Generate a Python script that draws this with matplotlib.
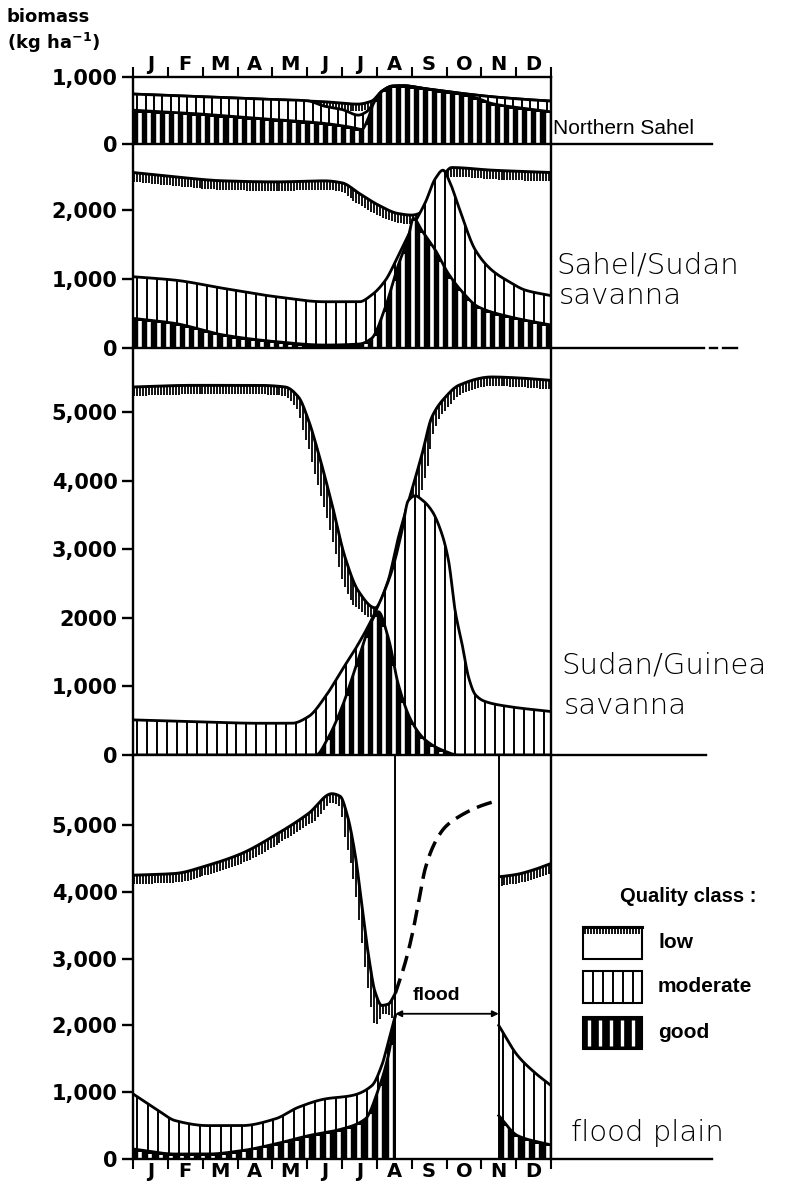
import numpy as np
import matplotlib
matplotlib.use("Agg")
import matplotlib.pyplot as plt
from matplotlib.patches import Rectangle

plt.rcParams["mathtext.default"] = "regular"

FIG_W, FIG_H, DPI = 786, 1186, 100

MONTH_LABELS = ["J", "F", "M", "A", "M", "J", "J", "A", "S", "O", "N", "D"]

# ---------------- Northern Sahel ----------------
ns_low_months = [0, 1.7, 3.6, 5.5, 6.45, 6.85, 7.15, 7.45, 7.75, 8.4, 9.35, 10.3, 11.25, 12]
ns_low = [745, 712, 672, 630, 595, 640, 790, 865, 870, 825, 760, 705, 665, 640]
ns_mod_months = [0, 1.7, 3.6, 5.0, 5.5, 6.0, 6.47, 6.7, 6.9, 7.15, 7.45, 7.75, 8.4, 9.35, 10.3, 11.25, 12]
ns_mod = [745, 712, 672, 645, 564, 515, 431, 480, 604, 790, 865, 870, 825, 760, 705, 665, 640]
ns_good_months = [0, 1.7, 3.6, 5.5, 6.28, 6.57, 6.75, 6.9, 7.15, 7.45, 7.75, 8.4, 9.35, 9.9, 10.3, 11.25, 12]
ns_good = [505, 456, 381, 307, 248, 218, 380, 600, 785, 862, 867, 822, 750, 680, 604, 530, 480]
ns_ticks = [0, 1000]
ns_ticklabels = ["0", "1,000"]

# ---------------- Sahel/Sudan savanna ----------------
ss_low_months = [0, 1.2, 2.6, 4.1, 5.5, 6.0, 6.5, 7.05, 7.6, 8.0, 8.4, 8.8, 9.15, 10.3, 12]
ss_low = [2546, 2483, 2425, 2410, 2425, 2396, 2241, 2072, 1952, 1928, 2000, 2400, 2618, 2580, 2546]
ss_mod_months = [0, 1.2, 2.6, 4.1, 5.5, 6.5, 6.85, 7.25, 7.6, 8.0, 8.4, 8.68, 8.9, 9.1, 9.35, 9.83, 10.3, 10.8, 11.26, 12]
ss_mod = [1034, 985, 865, 744, 671, 671, 768, 985, 1324, 1734, 2121, 2459, 2580, 2400, 2048, 1420, 1130, 961, 840, 760]
ss_good_months = [0, 1.2, 2.6, 4.1, 5.5, 6.5, 6.85, 7.25, 7.6, 7.9, 8.05, 8.3, 8.68, 9.05, 9.45, 9.9, 10.8, 12]
ss_good = [430, 357, 188, 92, 43, 58, 140, 600, 1180, 1600, 1880, 1700, 1420, 1082, 816, 600, 454, 333]
ss_ticks = [0, 1000, 2000]
ss_ticklabels = ["0", "1,000", "2,000"]

# ---------------- Sudan/Guinea savanna ----------------
sg_low_months = [0, 1.7, 3.6, 4.37, 4.75, 5.04, 5.33, 5.71, 6.09, 6.47, 6.95, 7.3, 7.62, 8.0, 8.3, 8.58, 8.97, 9.35, 10.3, 11.0, 12]
sg_low = [5366, 5390, 5390, 5366, 5220, 4878, 4390, 3659, 2878, 2390, 2146, 2500, 3171, 3854, 4390, 4927, 5220, 5390, 5512, 5500, 5463]
sg_mod_months = [0, 1.7, 3.6, 4.56, 5.04, 5.52, 6.0, 6.47, 6.95, 7.43, 7.72, 7.9, 8.1, 8.3, 8.58, 8.87, 9.06, 9.25, 9.45, 9.64, 9.83, 10.11, 10.78, 12]
sg_mod = [512, 488, 463, 463, 561, 850, 1240, 1620, 2080, 2683, 3268, 3707, 3780, 3720, 3561, 3220, 2829, 2098, 1610, 1122, 878, 780, 707, 634]
sg_good_months = [0, 5.25, 5.6, 6.0, 6.47, 6.85, 7.04, 7.33, 7.62, 8.0, 8.39, 8.87, 9.35, 12]
sg_good = [0, 0, 250, 700, 1400, 1950, 2090, 1707, 1024, 488, 220, 73, 0, 0]
sg_ticks = [0, 1000, 2000, 3000, 4000, 5000]
sg_ticklabels = ["0", "1,000", "2000", "3,000", "4,000", "5,000"]

# ---------------- Flood plain ----------------
FLOOD_START, FLOOD_END, FLOOD_LEVEL = 7.53, 10.5, 2175
fp_low_months = [0, 1.2, 2.16, 3.12, 4.08, 5.04, 5.71, 5.95, 6.15, 6.38, 6.57, 6.76, 6.95, 7.14, 7.33, 7.53]
fp_low = [4250, 4275, 4400, 4575, 4850, 5175, 5470, 5430, 5150, 4550, 3800, 3050, 2500, 2300, 2320, 2480]
fp_flood_months = [7.53, 7.82, 8.01, 8.2, 8.39, 8.68, 8.97, 9.35, 9.92, 10.5]
fp_flood = [2480, 2950, 3350, 3850, 4350, 4750, 4975, 5125, 5275, 5375]
fp_low2_months = [10.5, 11.0, 11.5, 12]
fp_low2 = [4225, 4260, 4330, 4425]
fp_mod_months = [0, 0.73, 1.21, 2.16, 3.12, 4.08, 4.75, 5.52, 6.28, 6.86, 7.14, 7.33, 7.53]
fp_mod = [975, 725, 575, 500, 500, 600, 775, 900, 950, 1100, 1400, 1750, 2150]
fp_mod2_months = [10.5, 11.04, 11.52, 12]
fp_mod2 = [2000, 1550, 1300, 1100]
fp_good_months = [0, 1.21, 2.16, 3.12, 4.08, 5.04, 6.0, 6.67, 7.05, 7.33, 7.53]
fp_good = [150, 75, 75, 125, 225, 350, 450, 600, 1050, 1550, 2150]
fp_good2_months = [10.5, 11.04, 12]
fp_good2 = [650, 350, 210]
fp_ticks = [0, 1000, 2000, 3000, 4000, 5000]
fp_ticklabels = ["0", "1,000", "2,000", "3,000", "4,000", "5,000"]

# ---------------- layout (pixels) ----------------
AX_LEFT_PX, AX_RIGHT_PX = 133, 551
PANEL_PX = [(77, 144), (144, 348), (348, 755), (755, 1159)]
PANEL_YMAX = [1000, 2960, 5935, 6050]
ZERO_LINE_END_PX = [712, 704, 706, 712]

NUM_FONT = ["DejaVu Sans"]
LINE_W = 1.7


def smooth(months, values, x):
    """Monotone cubic Hermite (Fritsch-Carlson) through the given points."""
    xk = np.asarray(months, float)
    yk = np.asarray(values, float)
    h = np.diff(xk)
    d = np.diff(yk) / h
    n = len(xk)
    m = np.zeros(n)
    m[0], m[-1] = d[0], d[-1]
    for i in range(1, n - 1):
        if d[i - 1] * d[i] > 0:
            w1 = 2 * h[i] + h[i - 1]
            w2 = h[i] + 2 * h[i - 1]
            m[i] = (w1 + w2) / (w1 / d[i - 1] + w2 / d[i])
    x = np.asarray(x, float)
    i = np.clip(np.searchsorted(xk, x, side="right") - 1, 0, n - 2)
    t = (x - xk[i]) / h[i]
    t2, t3 = t * t, t * t * t
    return ((2 * t3 - 3 * t2 + 1) * yk[i] + (t3 - 2 * t2 + t) * h[i] * m[i]
            + (-2 * t3 + 3 * t2) * yk[i + 1] + (t3 - t2) * h[i] * m[i + 1])


def dense(months, values, n=600):
    x = np.linspace(months[0], months[-1], n)
    return x, smooth(months, values, x)


def stripe_positions(months, step, offset):
    xs = np.arange(offset, 12.0, step)
    return xs[(xs > months[0] + 0.02) & (xs < months[-1] - 0.02)]


def draw_low(ax, months, values, ppm, ppu, fringe_px=9.0):
    x, y = dense(months, values)
    ax.plot(x, y, color="k", lw=2.1, zorder=1.5, solid_capstyle="butt")
    xs = stripe_positions(months, 0.085, 0.04)
    ys = smooth(months, values, xs)
    e = 0.01
    slope = (smooth(months, values, np.clip(xs + e, months[0], months[-1]))
             - smooth(months, values, np.clip(xs - e, months[0], months[-1]))) / (2 * e)
    slope_px = slope * ppu / ppm
    length = np.clip(fringe_px * np.sqrt(1 + slope_px ** 2), fringe_px, 34) / ppu
    ax.vlines(xs, np.maximum(ys - length, 0), ys, colors="k", lw=1.3, zorder=1.4)


def draw_moderate(ax, months, values, step=0.285, offset=0.12):
    x, y = dense(months, values)
    ax.fill_between(x, 0, y, color="white", lw=0, zorder=2)
    xs = stripe_positions(months, step, offset)
    ax.vlines(xs, 0, smooth(months, values, xs), colors="k", lw=1.4, zorder=2.1)
    ax.plot(x, y, color="k", lw=2.0, zorder=2.2)


def draw_good(ax, months, values, ppu, step=0.27, offset=0.2):
    x, y = dense(months, values)
    ax.fill_between(x, 0, y, color="black", lw=0, zorder=3)
    xs = stripe_positions(months, step, offset)
    top = smooth(months, values, xs) - 2.0 / ppu
    keep = top > 2.0 / ppu
    ax.vlines(xs[keep], 1.5 / ppu, top[keep], colors="white", lw=2.6, zorder=3.1)
    ax.plot(x, y, color="k", lw=2.0, zorder=3.2)


fig = plt.figure(figsize=(FIG_W / DPI, FIG_H / DPI), dpi=DPI)
axes = []
for k, ((top_px, bot_px), ymax) in enumerate(zip(PANEL_PX, PANEL_YMAX)):
    rect = [AX_LEFT_PX / FIG_W, 1 - bot_px / FIG_H,
            (AX_RIGHT_PX - AX_LEFT_PX) / FIG_W, (bot_px - top_px) / FIG_H]
    ax = fig.add_axes(rect)
    ax.set_xlim(0, 12)
    ax.set_ylim(0, ymax)
    ax.patch.set_alpha(0)
    for side in ("left", "right", "bottom"):
        ax.spines[side].set_linewidth(LINE_W)
        ax.spines[side].set_zorder(6)
    ax.spines["top"].set_visible(k == 0)
    ax.spines["top"].set_linewidth(LINE_W)
    ax.set_xticks([])
    # zero line continues to the right, under the region label
    ext = (ZERO_LINE_END_PX[k] - AX_LEFT_PX) / (AX_RIGHT_PX - AX_LEFT_PX)
    ax.plot([1, ext], [0, 0], color="k", lw=LINE_W, transform=ax.get_yaxis_transform(), clip_on=False)
    if k == 1:
        for a, b in [(ext + 0.015, ext + 0.03), (ext + 0.045, ext + 0.08)]:
            ax.plot([a, b], [0, 0], color="k", lw=LINE_W, transform=ax.get_yaxis_transform(), clip_on=False)
    axes.append(ax)

ax_ns, ax_ss, ax_sg, ax_fp = axes
tick_sets = [(ns_ticks, ns_ticklabels), (ss_ticks, ss_ticklabels),
             (sg_ticks, sg_ticklabels), (fp_ticks, fp_ticklabels)]
for ax, (ticks, labels) in zip(axes, tick_sets):
    ax.set_yticks(ticks)
    ax.set_yticklabels(labels, fontsize=15, fontweight="bold", family=NUM_FONT)
    ax.tick_params(axis="y", direction="out", length=8, width=LINE_W, pad=3)

# month ticks: boundaries on top of the first panel and at the bottom of the last
for ax, where in [(ax_ns, "top"), (ax_fp, "bottom")]:
    ax.set_xticks(np.arange(13))
    ax.set_xticklabels([])
    ax.set_xticks(np.arange(12) + 0.5, minor=True)
    ax.set_xticklabels(MONTH_LABELS, minor=True, fontsize=14, fontweight="bold", family=NUM_FONT)
    if where == "top":
        ax.xaxis.set_ticks_position("top")
        ax.tick_params(axis="x", which="both", top=True, bottom=False, labeltop=True, labelbottom=False)
    ax.tick_params(axis="x", which="major", direction="out", length=7, width=1.5)
    ax.tick_params(axis="x", which="minor", length=0, pad=2)


def scales(k):
    ppm = (AX_RIGHT_PX - AX_LEFT_PX) / 12.0
    ppu = (PANEL_PX[k][1] - PANEL_PX[k][0]) / PANEL_YMAX[k]
    return ppm, ppu


# Northern Sahel
ppm, ppu = scales(0)
draw_low(ax_ns, ns_low_months, ns_low, ppm, ppu, fringe_px=7)
draw_moderate(ax_ns, ns_mod_months, ns_mod, step=0.24)
draw_good(ax_ns, ns_good_months, ns_good, ppu, step=0.26)

# Sahel/Sudan savanna
ppm, ppu = scales(1)
draw_low(ax_ss, ss_low_months, ss_low, ppm, ppu)
draw_moderate(ax_ss, ss_mod_months, ss_mod)
draw_good(ax_ss, ss_good_months, ss_good, ppu)

# Sudan/Guinea savanna
ppm, ppu = scales(2)
draw_low(ax_sg, sg_low_months, sg_low, ppm, ppu)
draw_moderate(ax_sg, sg_mod_months, sg_mod)
draw_good(ax_sg, sg_good_months, sg_good, ppu)

# Flood plain
ppm, ppu = scales(3)
draw_low(ax_fp, fp_low_months, fp_low, ppm, ppu)
draw_low(ax_fp, fp_low2_months, fp_low2, ppm, ppu)
draw_moderate(ax_fp, fp_mod_months, fp_mod, step=0.3)
draw_moderate(ax_fp, fp_mod2_months, fp_mod2, step=0.3)
draw_good(ax_fp, fp_good_months, fp_good, ppu, step=0.3)
draw_good(ax_fp, fp_good2_months, fp_good2, ppu, step=0.3)
xf, yf = dense(fp_flood_months, fp_flood)
ax_fp.plot(xf, yf, color="k", lw=2.5, linestyle=(0, (4.5, 2.3)), zorder=4)
for xv in (FLOOD_START, FLOOD_END):
    ax_fp.axvline(xv, color="k", lw=1.4, zorder=4)
ax_fp.annotate("", xy=(FLOOD_END, FLOOD_LEVEL), xytext=(FLOOD_START, FLOOD_LEVEL),
               arrowprops=dict(arrowstyle="<|-|>", lw=1.3, color="k", mutation_scale=9,
                               shrinkA=0, shrinkB=0), zorder=4)
ax_fp.text((FLOOD_START + FLOOD_END) / 2 - 0.3, FLOOD_LEVEL + 270, "flood", ha="center", va="center",
           fontsize=14, fontweight="bold", family=["Liberation Sans"])

# ---------------- overlay for labels and key (pixel coordinates) ----------------
ov = fig.add_axes([0, 0, 1, 1], zorder=10)
ov.set_xlim(0, FIG_W)
ov.set_ylim(FIG_H, 0)
ov.axis("off")
ov.patch.set_alpha(0)

ov.text(7, 17, "biomass", fontsize=13, fontweight="bold", family=NUM_FONT, va="center", ha="left")
ov.text(7, 43, "(kg ha$^{-1}$)", fontsize=13, fontweight="bold", family=NUM_FONT, va="center", ha="left")

ov.text(553, 128, "Northern Sahel", fontsize=15, family=["Liberation Sans"], va="center", ha="left")
hand = dict(family=["DejaVu Sans"], fontweight="light", va="center", ha="left")
ov.text(556, 266, "Sahel/Sudan", fontsize=21, **hand)
ov.text(559, 296, "savanna", fontsize=21, **hand)
ov.text(561, 666, "Sudan/Guinea", fontsize=21, **hand)
ov.text(564, 706, "savanna", fontsize=21, **hand)
ov.text(571, 1133, "flood plain", fontsize=21, **hand)

# key
ov.text(620, 897, "Quality class :", fontsize=14.5, family=["Liberation Sans"], fontweight="bold",
        va="center", ha="left")
KEY_X, KEY_W, KEY_H = 583, 59, 32
key_rows = [("low", 927), ("moderate", 971), ("good", 1017)]
for name, ytop in key_rows:
    if name == "good":
        ov.add_patch(Rectangle((KEY_X, ytop), KEY_W, KEY_H, facecolor="black", edgecolor="black", lw=1.5))
        xs = np.arange(KEY_X + 6, KEY_X + KEY_W - 3, 11)
        ov.vlines(xs, ytop + 3, ytop + KEY_H - 3, colors="white", lw=2.4)
    else:
        ov.add_patch(Rectangle((KEY_X, ytop), KEY_W, KEY_H, facecolor="white", edgecolor="black", lw=1.5))
        if name == "low":
            xs = np.arange(KEY_X + 1.5, KEY_X + KEY_W, 3.0)
            ov.vlines(xs, ytop, ytop + 7, colors="k", lw=1.3)
            ov.plot([KEY_X, KEY_X + KEY_W], [ytop, ytop], color="k", lw=2.2)
        else:
            xs = np.arange(KEY_X + 10, KEY_X + KEY_W - 2, 10)
            ov.vlines(xs, ytop, ytop + KEY_H, colors="k", lw=1.4)
    ov.text(658, ytop + KEY_H / 2, name, fontsize=15, family=["Liberation Sans"], fontweight="bold",
            va="center", ha="left")

fig.savefig("out.png", dpi=DPI)
